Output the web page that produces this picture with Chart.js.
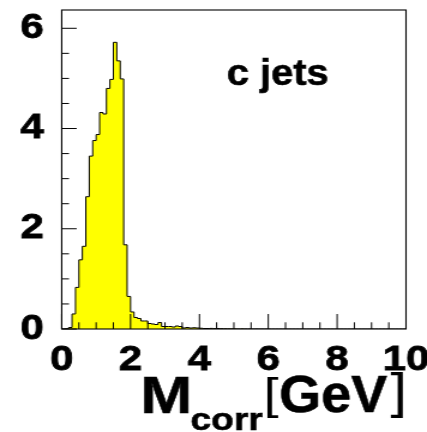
<!DOCTYPE html>
<html>
<head>
<meta charset="utf-8">
<script src="https://cdn.jsdelivr.net/npm/chart.js@4.4.1/dist/chart.umd.min.js"></script>
<style>
  html, body { margin: 0; padding: 0; background: #fff; overflow: hidden; }
  #wrap { width: 356px; height: 432px; transform: scaleX(1.1994); transform-origin: 0 0; }
  canvas { display: block; }
</style>
</head>
<body>
<div id="wrap"><canvas id="c" width="356" height="432"></canvas></div>
<script>
// Corrected vertex mass for c jets: 100 bins of 0.1 GeV from 0 to 10 GeV
const binCount = 100;
const binStart = 0;
const binStep = 0.1;
const binValues = [
  0, 0.005, 0.03, 0.30, 0.83, 1.38, 1.65, 2.64, 3.45, 3.76,
  3.88, 4.32, 4.29, 4.80, 4.98, 5.72, 5.35, 4.99, 1.68, 0.65,
  0.34, 0.23, 0.21, 0.16, 0.16, 0.11, 0.10, 0.09, 0.13, 0.05,
  0.05, 0.05, 0.04, 0.06, 0.05, 0.02, 0.03, 0.02, 0.025, 0.02,
  0.015, 0.01, 0.01, 0.012, 0.008, 0.01, 0.006, 0.005, 0.004, 0.004,
  0.003, 0.002, 0.003, 0.002, 0.002, 0.001, 0.002, 0.001, 0.001, 0.001,
  0, 0, 0, 0, 0, 0, 0, 0, 0, 0,
  0, 0, 0, 0, 0, 0, 0, 0, 0, 0,
  0, 0, 0, 0, 0, 0, 0, 0, 0, 0,
  0, 0, 0, 0, 0, 0, 0, 0, 0, 0
];
const xTickLabels = ['0', '2', '4', '6', '8', '10'];
const yTickLabels = ['0', '2', '4', '6'];
const xRange = [0, 10];
const yRange = [0, 6.365];
const panelLabel = 'c jets';
const axisTitle = { main: 'M', sub: 'corr', open: '[', unit: 'GeV', close: ']' };

// step outline: one point per bin low edge, closed at the upper edge
const histPoints = binValues.map((v, i) => ({ x: binStart + i * binStep, y: v }));
histPoints.push({ x: binStart + binCount * binStep, y: 0 });

const FONT = '"Liberation Sans", Arial, Helvetica, sans-serif';

function labelFor(list) {
  return (value) => {
    const s = String(Math.round(value));
    return (value % 2 === 0 && list.includes(s)) ? s : '';
  };
}

// ROOT-like frame with inward ticks, panel label and axis title
const frameAndText = {
  id: 'frameAndText',
  afterDatasetsDraw(chart) {
    const { ctx, chartArea: a, scales } = chart;
    ctx.save();
    ctx.strokeStyle = '#000';
    ctx.lineWidth = 1;
    ctx.beginPath();
    scales.x.ticks.forEach(t => {
      const px = scales.x.getPixelForValue(t.value);
      const len = (t.value % 2 === 0) ? 15 : 6.7;
      ctx.moveTo(px, a.bottom);
      ctx.lineTo(px, a.bottom - len);
    });
    scales.y.ticks.forEach(t => {
      const py = scales.y.getPixelForValue(t.value);
      const len = (t.value % 2 === 0) ? 12.5 : 6.1;
      ctx.moveTo(a.left, py);
      ctx.lineTo(a.left + len, py);
    });
    ctx.stroke();
    ctx.lineWidth = 1.1;
    ctx.strokeRect(a.left, a.top, a.right - a.left, a.bottom - a.top);
    ctx.restore();
  },
  afterDraw(chart) {
    const { ctx } = chart;
    ctx.save();
    ctx.fillStyle = '#000';
    ctx.strokeStyle = '#000';
    ctx.lineWidth = 0.6;
    ctx.textBaseline = 'alphabetic';
    ctx.textAlign = 'left';
    const put = (font, text, x, y, maxW, heavy) => {
      ctx.font = font;
      if (maxW) ctx.fillText(text, x, y, maxW); else ctx.fillText(text, x, y);
      if (heavy) { if (maxW) ctx.strokeText(text, x, y, maxW); else ctx.strokeText(text, x, y); }
    };

    put('bold 36px ' + FONT, panelLabel, 189, 85, 85, true);
    put('bold 52px ' + FONT, axisTitle.main, 117, 413, 0, true);
    put('bold 31px ' + FONT, axisTitle.sub, 158.8, 430, 0, true);
    put('normal 45px ' + FONT, axisTitle.open, 219.8, 408.8, 0, false);
    put('bold 51px ' + FONT, axisTitle.unit, 232.7, 412, 90, true);
    put('normal 50px ' + FONT, axisTitle.close, 325.6, 407.8, 0, false);
    ctx.restore();
  }
};

new Chart(document.getElementById('c'), {
  type: 'line',
  data: {
    datasets: [{
      data: histPoints,
      stepped: 'before',
      fill: 'origin',
      backgroundColor: '#ffff00',
      borderColor: '#000',
      borderWidth: 1,
      pointRadius: 0,
      tension: 0
    }]
  },
  options: {
    responsive: false,
    animation: false,
    devicePixelRatio: 1,
    layout: { padding: { top: 10, right: 17.5, bottom: 0, left: 0 } },
    plugins: { legend: { display: false }, tooltip: { enabled: false } },
    scales: {
      x: {
        type: 'linear',
        min: xRange[0],
        max: xRange[1],
        border: { display: false },
        grid: { display: false, drawTicks: false },
        ticks: {
          stepSize: 0.5,
          autoSkip: false,
          maxRotation: 0,
          minRotation: 0,
          padding: 10,
          color: '#000',
          textStrokeColor: '#000',
          textStrokeWidth: 0.8,
          font: { family: FONT, size: 35, weight: 'bold' },
          callback: labelFor(xTickLabels)
        },
        afterFit(scale) { scale.height = 103; scale.paddingLeft = 0; scale.paddingRight = 0; }
      },
      y: {
        type: 'linear',
        min: yRange[0],
        max: yRange[1],
        border: { display: false },
        grid: { display: false, drawTicks: false },
        ticks: {
          stepSize: 0.5,
          includeBounds: false,
          autoSkip: false,
          padding: 15,
          color: '#000',
          textStrokeColor: '#000',
          textStrokeWidth: 0.8,
          font: { family: FONT, size: 35, weight: 'bold' },
          callback: labelFor(yTickLabels)
        },
        afterFit(scale) { scale.width = 51.44; scale.paddingTop = 0; scale.paddingBottom = 0; }
      }
    }
  },
  plugins: [frameAndText]
});
</script>
</body>
</html>
